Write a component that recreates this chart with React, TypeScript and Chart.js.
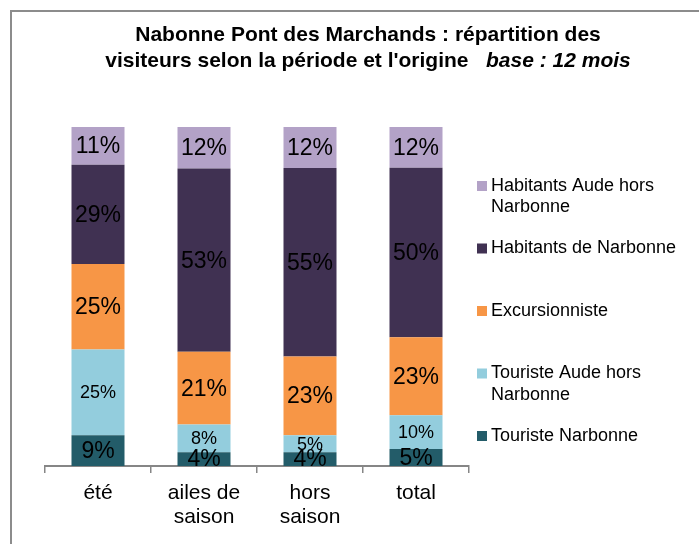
import React, { useEffect, useRef } from 'react';
import { Chart, registerables } from 'chart.js';

Chart.register(...registerables);

// ---- data ----
const categories: string[][] = [['été'], ['ailes de', 'saison'], ['hors', 'saison'], ['total']];
const seriesNames = [
  'Touriste Narbonne',
  'Touriste Aude hors Narbonne',
  'Excursionniste',
  'Habitants de Narbonne',
  'Habitants Aude hors Narbonne',
];
const touristeNarbonne = [9, 4, 4, 5];
const touristeAude = [25, 8, 5, 10];
const excursionniste = [25, 21, 23, 23];
const habitantsNarbonne = [29, 53, 55, 50];
const habitantsAude = [11, 12, 12, 12];
const seriesColors = ['#235C69', '#93CDDD', '#F79646', '#403152', '#B3A2C7'];
const labelFontSizes = [23, 18, 23, 23, 23];

const titleLine1 = 'Nabonne Pont des Marchands : répartition des';
const titleLine2 = "visiteurs selon la période et l'origine";
const titleItalic = 'base : 12 mois';

const FONT = '"Liberation Sans", Arial, sans-serif';

export default function App() {
  const ref = useRef<HTMLCanvasElement | null>(null);

  useEffect(() => {
    const canvas = ref.current;
    if (!canvas) return;
    const series = [touristeNarbonne, touristeAude, excursionniste, habitantsNarbonne, habitantsAude];
    const totals = categories.map((_, i) => series.reduce((s, arr) => s + arr[i], 0));

    const datasets = series.map((arr, k) => ({
      label: seriesNames[k],
      data: arr.map((v, i) => (v / totals[i]) * 100),
      raw: arr,
      backgroundColor: seriesColors[k],
      borderWidth: 0,
      categoryPercentage: 1,
      barPercentage: 0.5,
    }));

    const decorPlugin = {
      id: 'decor',
      beforeDraw(chart: any) {
        const ctx = chart.ctx as CanvasRenderingContext2D;
        ctx.save();
        ctx.fillStyle = '#ffffff';
        ctx.fillRect(0, 0, chart.width, chart.height);
        ctx.strokeStyle = '#8c8c8c';
        ctx.lineWidth = 2;
        ctx.strokeRect(11, 11, 1000, 1000);
        ctx.restore();
      },
      afterDatasetsDraw(chart: any) {
        const ctx = chart.ctx as CanvasRenderingContext2D;
        ctx.save();
        ctx.textAlign = 'center';
        ctx.textBaseline = 'middle';
        ctx.fillStyle = '#000000';
        chart.data.datasets.forEach((ds: any, k: number) => {
          const meta = chart.getDatasetMeta(k);
          ctx.font = `${labelFontSizes[k]}px ${FONT}`;
          meta.data.forEach((bar: any, i: number) => {
            const y = (bar.y + bar.base) / 2;
            ctx.fillText(`${ds.raw[i]}%`, bar.x, y + 1);
          });
        });
        ctx.restore();
      },
      afterDraw(chart: any) {
        const ctx = chart.ctx as CanvasRenderingContext2D;
        ctx.save();
        // title
        const cx = 368;
        ctx.fillStyle = '#000000';
        ctx.textBaseline = 'middle';
        ctx.textAlign = 'left';
        ctx.font = `bold 21px ${FONT}`;
        const w1 = ctx.measureText(titleLine1).width;
        ctx.fillText(titleLine1, cx - w1 / 2, 35);
        const wA = ctx.measureText(titleLine2).width;
        const gap = ctx.measureText('   ').width;
        ctx.font = `italic bold 21px ${FONT}`;
        const wB = ctx.measureText(titleItalic).width;
        const start = cx - (wA + gap + wB) / 2;
        ctx.font = `bold 21px ${FONT}`;
        ctx.fillText(titleLine2, start, 61);
        ctx.font = `italic bold 21px ${FONT}`;
        ctx.fillText(titleItalic, start + wA + gap, 61);

        // legend (top series first)
        ctx.font = `18px ${FONT}`;
        const items = chart.data.datasets.map((d: any, k: number) => ({ text: d.label, color: d.backgroundColor, k })).reverse();
        const maxW = 200;
        items.forEach((it: any, idx: number) => {
          const words = it.text.split(' ');
          const lines: string[] = [];
          let cur = '';
          words.forEach((w: string) => {
            const t = cur ? cur + ' ' + w : w;
            if (ctx.measureText(t).width > maxW && cur) {
              lines.push(cur);
              cur = w;
            } else cur = t;
          });
          if (cur) lines.push(cur);
          const y0 = 186 + idx * 62.5;
          ctx.fillStyle = it.color;
          ctx.fillRect(477, y0 - 5, 10, 10);
          ctx.fillStyle = '#000000';
          lines.forEach((ln, j) => ctx.fillText(ln, 491, y0 + j * 21.5));
        });
        ctx.restore();
      },
    };

    const chart = new Chart(canvas, {
      type: 'bar',
      data: { labels: categories, datasets: datasets as any },
      plugins: [decorPlugin],
      options: {
        responsive: false,
        animation: false,
        devicePixelRatio: 1,
        layout: { padding: { left: 45, right: 230, top: 127, bottom: 0 } },
        plugins: { legend: { display: false }, title: { display: false }, tooltip: { enabled: false } },
        scales: {
          x: {
            stacked: true,
            offset: true,
            afterFit: (scale: any) => {
              scale.height = 78;
            },
            grid: {
              display: true,
              drawOnChartArea: false,
              drawTicks: true,
              tickLength: 7,
              color: '#868686',
              lineWidth: 1.5,
              offset: true,
            },
            border: { display: true, color: '#868686', width: 2 },
            ticks: {
              padding: 8,
              color: '#000000',
              font: { family: FONT, size: 21, lineHeight: 1.15 },
              maxRotation: 0,
              autoSkip: false,
            },
          },
          y: {
            stacked: true,
            display: false,
            min: 0,
            max: 100,
          },
        },
      },
    });
    return () => chart.destroy();
  }, []);

  return (
    <div style={{ position: 'fixed', left: 0, top: 0, width: 699, height: 544, background: '#fff' }}>
      <canvas ref={ref} width={699} height={544} style={{ display: 'block' }} />
    </div>
  );
}
